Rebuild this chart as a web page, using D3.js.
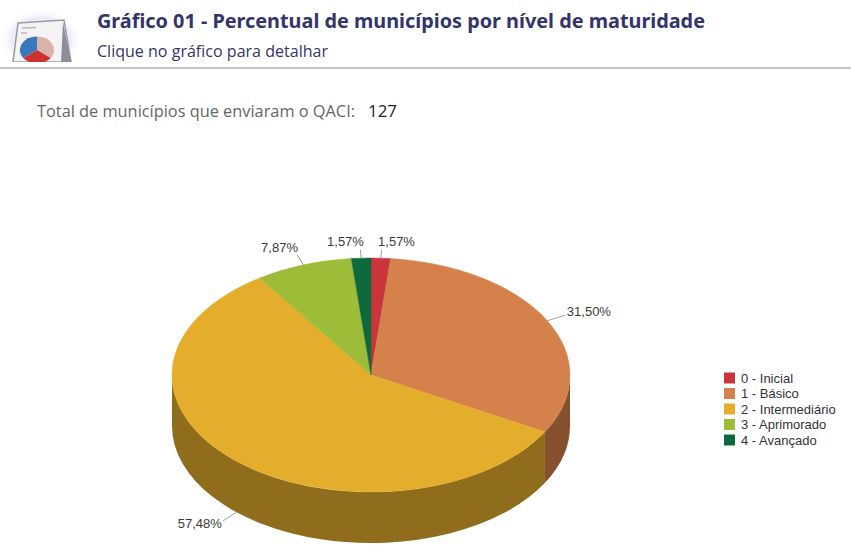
<!DOCTYPE html>
<html><head><meta charset="utf-8">
<script src="https://cdn.jsdelivr.net/npm/d3@7"></script>
<style>body{margin:0;background:#fff}svg{display:block}</style>
</head><body>
<script>
// ---- data ----
const categories = ["0 - Inicial","1 - Básico","2 - Intermediário","3 - Aprimorado","4 - Avançado"];
const counts = [2, 40, 73, 10, 2];
const colors = ["#c9353b","#d4814b","#e4ae2c","#9dbc37","#0e6a3c"];
const titleText = "Gráfico 01 - Percentual de municípios por nível de maturidade";
const subtitleText = "Clique no gráfico para detalhar";
const totalLabel = "Total de municípios que enviaram o QACI:";
const total = d3.sum(counts);

const W = 851, H = 558;
const svg = d3.select("body").append("svg").attr("width", W).attr("height", H);
svg.append("rect").attr("width", W).attr("height", H).attr("fill", "#fff");
const defs = svg.append("defs");

// ---- header icon ----
const glow = defs.append("radialGradient").attr("id","glow").attr("cx","50%").attr("cy","55%").attr("r","55%");
glow.append("stop").attr("offset","0%").attr("stop-color","#e4e4f4");
glow.append("stop").attr("offset","70%").attr("stop-color","#ececf8");
glow.append("stop").attr("offset","100%").attr("stop-color","#ffffff").attr("stop-opacity",0);
const icon = svg.append("g");
icon.append("rect").attr("x",3).attr("y",8).attr("width",76).attr("height",58).attr("rx",14).attr("fill","url(#glow)");
icon.append("polygon").attr("points","18,23 64,20 71,62 13,62").attr("fill","#f3f3f6").attr("stroke","#9a9aa4").attr("stroke-width",1.5);
icon.append("polygon").attr("points","63,22 71,62 61,62").attr("fill","#8e8e98");
icon.append("line").attr("x1",22).attr("y1",28).attr("x2",36).attr("y2",27.5).attr("stroke","#b8b8c0").attr("stroke-width",1.5);
icon.append("line").attr("x1",21).attr("y1",33).attr("x2",27).attr("y2",33).attr("stroke","#b8b8c0").attr("stroke-width",1.5);
const ipie = d3.pie().sort(null)([35, 30, 35]);
const iarc = d3.arc().innerRadius(0).outerRadius(17);
icon.append("g").attr("transform","translate(37,50) scale(1,0.8)")
  .selectAll("path").data(ipie).join("path")
  .attr("d", iarc).attr("fill", (d,i)=>["#d9b3ab","#cf3030","#3a78bd"][i]);
svg.append("rect").attr("x",0).attr("y",62).attr("width",80).attr("height",5).attr("fill","#fff");

// ---- header texts ----
svg.append("text").attr("x",97).attr("y",28).text(titleText)
  .attr("font-family","'Noto Sans', sans-serif").attr("font-weight","bold").attr("font-size",19)
  .attr("fill","#34346c").attr("textLength",608).attr("lengthAdjust","spacingAndGlyphs");
svg.append("text").attr("x",97).attr("y",57).text(subtitleText)
  .attr("font-family","'Open Sans', sans-serif").attr("font-size",15.5)
  .attr("fill","#35356a").attr("textLength",231).attr("lengthAdjust","spacingAndGlyphs");
svg.append("rect").attr("x",0).attr("y",67).attr("width",W).attr("height",2).attr("fill","#c4c4c4");
svg.append("text").attr("x",37).attr("y",117).text(totalLabel)
  .attr("font-family","'Open Sans', sans-serif").attr("font-size",15.5)
  .attr("fill","#666").attr("textLength",318).attr("lengthAdjust","spacingAndGlyphs");
svg.append("text").attr("x",368).attr("y",117).text(total)
  .attr("font-family","'Open Sans', sans-serif").attr("font-size",15.5)
  .attr("fill","#222").attr("textLength",29).attr("lengthAdjust","spacingAndGlyphs");

// ---- 3D pie ----
const cx = 371, cy = 375, rx = 199, ry = 117, depth = 51;
const color = d3.scaleOrdinal().domain(categories).range(colors);
const pieData = d3.pie().sort(null).startAngle(0).endAngle(2*Math.PI)
  .value(d => d.v)(categories.map((c,i)=>({c, v: counts[i]})));
const pt = (a, dy=0) => [cx + rx*Math.sin(a), cy - ry*Math.cos(a) + dy];

function topPath(a0, a1){
  const large = (a1-a0) > Math.PI ? 1 : 0;
  return `M${cx},${cy}L${pt(a0)}A${rx},${ry} 0 ${large} 1 ${pt(a1)}Z`;
}
function sidePath(s, e){
  const large = (e-s) > Math.PI ? 1 : 0;
  return `M${pt(s)}A${rx},${ry} 0 ${large} 1 ${pt(e)}L${pt(e,depth)}A${rx},${ry} 0 ${large} 0 ${pt(s,depth)}Z`;
}

const gSide = svg.append("g");
pieData.forEach(d => {
  const s = Math.max(d.startAngle, Math.PI/2), e = Math.min(d.endAngle, 3*Math.PI/2);
  if (s < e) {
    gSide.append("path").attr("d", sidePath(s, e))
      .attr("fill", d3.color(color(d.data.c)).darker(1.3));
  }
});
const gTop = svg.append("g");
gTop.selectAll("path").data(pieData).join("path")
  .attr("d", d => topPath(d.startAngle, d.endAngle))
  .attr("fill", d => color(d.data.c))
  .attr("stroke", d => color(d.data.c)).attr("stroke-width", 0.5);

// ---- labels ----
const loc = d3.formatLocale({decimal: ",", thousands: ".", grouping: [3], currency: ["R$", ""]});
const fmt = loc.format(".2f");
const gLab = svg.append("g");
pieData.forEach(d => {
  const m = (d.startAngle + d.endAngle) / 2;
  const sn = Math.sin(m), cs = Math.cos(m);
  const front = cs < 0;
  const a = pt(m, front ? depth : 0);
  let dx = rx*sn, dy = -ry*cs; const n = Math.hypot(dx, dy); dx /= n; dy /= n;
  const L = 8 + 12*Math.abs(sn);
  const e = [a[0] + dx*L, a[1] + dy*L];
  gLab.append("line").attr("x1", a[0]).attr("y1", a[1]).attr("x2", e[0]).attr("y2", e[1])
    .attr("stroke", "#a0a0a0").attr("stroke-width", 1);
  const right = sn >= 0;
  const off = (right ? 1 : -1) * (-4 + 6*Math.abs(dx));
  const ty = e[1] + (cs > 0 ? -cs*8 : -cs*3);
  gLab.append("text").attr("x", e[0] + off).attr("y", ty)
    .attr("dominant-baseline", "central")
    .attr("text-anchor", right ? "start" : "end")
    .attr("font-family", "'Liberation Sans', Arial, sans-serif").attr("font-size", 13)
    .attr("fill", "#3a3a3a")
    .text(fmt(d.data.v / total * 100) + "%");
});

// ---- legend ----
const ly = d3.scalePoint().domain(categories).range([378, 440]);
const gLeg = svg.append("g");
categories.forEach(c => {
  gLeg.append("rect").attr("x", 724).attr("y", ly(c) - 5.5).attr("width", 11).attr("height", 11)
    .attr("fill", color(c));
  gLeg.append("text").attr("x", 741).attr("y", ly(c)).attr("dominant-baseline", "central")
    .attr("font-family", "'Liberation Sans', Arial, sans-serif").attr("font-size", 13)
    .attr("fill", "#333").text(c);
});
</script>
</body></html>
